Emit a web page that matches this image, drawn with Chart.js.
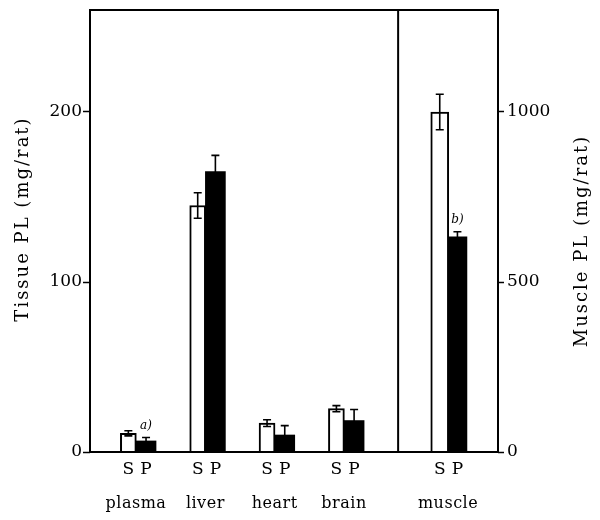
<!DOCTYPE html>
<html lang="en">
<head>
    <meta charset="UTF-8">
    <title>Tissue PL</title>
    <script src="https://cdn.jsdelivr.net/npm/chart.js"></script>
    <style>
        body { margin: 0; background: #fff; }
        #wrap { width: 600px; height: 520px; }
    </style>
</head>
<body>
    <div id="wrap"><canvas id="plChart"></canvas></div>

    <script>
        // tissues on the left axis, muscle on the right axis
        const tissues = ["plasma", "liver", "heart", "brain"];
        const tissueS = [11, 145, 17, 25.5];
        const tissueSErr = [1.5, 7.5, 2, 1.8];
        const tissueP = [6.5, 165, 10, 18.5];
        const tissuePErr = [2, 9.5, 5.5, 6.5];
        const tissueNotes = ["a)", "", "", ""];

        const muscleLabel = ["muscle"];
        const muscleS = [1000];
        const muscleSErr = [52];
        const muscleP = [633];
        const musclePErr = [15];
        const muscleNotes = ["b)"];

        const leftTicks = [0, 100, 200];
        const rightTicks = [0, 500, 1000];

        // layout: group index on a linear x scale, muscle sits in its own panel
        const muscleSlot = 5.5;
        const dividerAt = 4.78;
        const offS = -0.11, offP = 0.145;

        const serif = "'DejaVu Serif', 'Liberation Serif', serif";

        function pts(vals, off, start) {
            return vals.map((v, i) => ({ x: start + i + off, y: v }));
        }

        const groupX = tissues.map((t, i) => i + 1).concat([muscleSlot]);
        const groupNames = tissues.concat(muscleLabel);
        const openBorder = { left: 2, right: 2, top: 2, bottom: 0 };

        const datasets = [
            { tag: "S", data: pts(tissueS, offS, 1), err: tissueSErr, notes: [], yAxisID: "y",
              backgroundColor: "#fff", borderColor: "#000", borderWidth: openBorder, barThickness: 16 },
            { tag: "P", data: pts(tissueP, offP, 1), err: tissuePErr, notes: tissueNotes, yAxisID: "y",
              backgroundColor: "#000", borderColor: "#000", borderWidth: 0, barThickness: 20 },
            { tag: "S", data: pts(muscleS, offS - 0.01, muscleSlot), err: muscleSErr, notes: [], yAxisID: "y2",
              backgroundColor: "#fff", borderColor: "#000", borderWidth: openBorder, barThickness: 18 },
            { tag: "P", data: pts(muscleP, offP - 0.01, muscleSlot), err: musclePErr, notes: muscleNotes, yAxisID: "y2",
              backgroundColor: "#000", borderColor: "#000", borderWidth: 0, barThickness: 19 }
        ];

        const errorBars = {
            id: "errorBars",
            afterDatasetsDraw(chart) {
                const ctx = chart.ctx;
                ctx.save();
                ctx.strokeStyle = "#000";
                ctx.fillStyle = "#000";
                ctx.lineWidth = 1.6;
                chart.data.datasets.forEach((ds, di) => {
                    const scale = chart.scales[ds.yAxisID];
                    chart.getDatasetMeta(di).data.forEach((bar, i) => {
                        const v = ds.data[i].y, e = ds.err[i];
                        const yt = scale.getPixelForValue(v + e);
                        const yb = scale.getPixelForValue(v - e);
                        ctx.beginPath();
                        ctx.moveTo(bar.x, yt); ctx.lineTo(bar.x, yb);
                        ctx.moveTo(bar.x - 4, yt); ctx.lineTo(bar.x + 4, yt);
                        ctx.moveTo(bar.x - 4, yb); ctx.lineTo(bar.x + 4, yb);
                        ctx.stroke();
                        const note = ds.notes[i];
                        if (note) {
                            ctx.font = "italic 12px " + serif;
                            ctx.textAlign = "center";
                            ctx.fillText(note, bar.x, yt - 9);
                        }
                        // S / P letter under each bar
                        ctx.font = "17px " + serif;
                        ctx.textAlign = "center";
                        ctx.textBaseline = "middle";
                        ctx.fillText(ds.tag, bar.x, 470);
                        ctx.textBaseline = "alphabetic";
                    });
                });
                ctx.restore();
            }
        };

        const frame = {
            id: "frame",
            afterDraw(chart) {
                const a = chart.chartArea, ctx = chart.ctx;
                const xs = chart.scales.x;
                const xd = xs.getPixelForValue(dividerAt);
                ctx.save();
                ctx.strokeStyle = "#000";
                ctx.lineWidth = 2;
                ctx.beginPath();
                ctx.rect(a.left, a.top, a.right - a.left, a.bottom - a.top);
                ctx.moveTo(xd, a.top); ctx.lineTo(xd, a.bottom);
                ctx.stroke();

                ctx.fillStyle = "#000";
                ctx.textAlign = "center";
                ctx.textBaseline = "middle";
                ctx.font = "16px " + serif;
                ctx.letterSpacing = "0.5px";
                groupX.forEach((g, i) => ctx.fillText(groupNames[i], xs.getPixelForValue(g), 504));

                // axis titles, both reading upward
                ctx.font = "18px " + serif;
                ctx.letterSpacing = "2px";
                ctx.translate(23, 219);
                ctx.rotate(-Math.PI / 2);
                ctx.fillText("Tissue PL (mg/rat)", 0, 0);
                ctx.setTransform(1, 0, 0, 1, 0, 0);
                ctx.translate(582, 241);
                ctx.rotate(-Math.PI / 2);
                ctx.fillText("Muscle PL (mg/rat)", 0, 0);
                ctx.restore();
            }
        };

        const tickFont = { family: serif, size: 17 };

        function fitY(width) {
            return s => { s.width = width; s.paddingTop = 0; s.paddingBottom = 0; };
        }

        new Chart(document.getElementById("plChart"), {
            type: "bar",
            data: { datasets: datasets },
            options: {
                responsive: true,
                maintainAspectRatio: false,
                animation: false,
                layout: { padding: { top: 10, right: 2, left: 2, bottom: 2 } },
                datasets: { bar: { grouped: false } },
                plugins: { legend: { display: false }, tooltip: { enabled: false } },
                scales: {
                    x: {
                        type: "linear", min: 0.337, max: 6.22, offset: false,
                        afterBuildTicks: s => { s.ticks = groupX.map(v => ({ value: v })); },
                        afterFit: s => { s.height = 66; },
                        grid: { display: false },
                        border: { display: false },
                        ticks: { display: false }
                    },
                    y: {
                        position: "left", min: 0, max: 260,
                        afterBuildTicks: s => { s.ticks = leftTicks.map(v => ({ value: v })); },
                        afterFit: fitY(88),
                        grid: { display: true, drawOnChartArea: false, tickLength: 7, tickColor: "#000", tickWidth: 1.5 },
                        border: { display: false },
                        ticks: { color: "#000", padding: 1, font: tickFont, callback: v => String(v) }
                    },
                    y2: {
                        position: "right", min: 0, max: 1300,
                        afterBuildTicks: s => { s.ticks = rightTicks.map(v => ({ value: v })); },
                        afterFit: fitY(100),
                        grid: { display: true, drawOnChartArea: false, tickLength: 6, tickColor: "#000", tickWidth: 1.5 },
                        border: { display: false },
                        ticks: { color: "#000", padding: 3, font: tickFont, callback: v => String(v) }
                    }
                }
            },
            plugins: [errorBars, frame]
        });
    </script>
</body>
</html>
